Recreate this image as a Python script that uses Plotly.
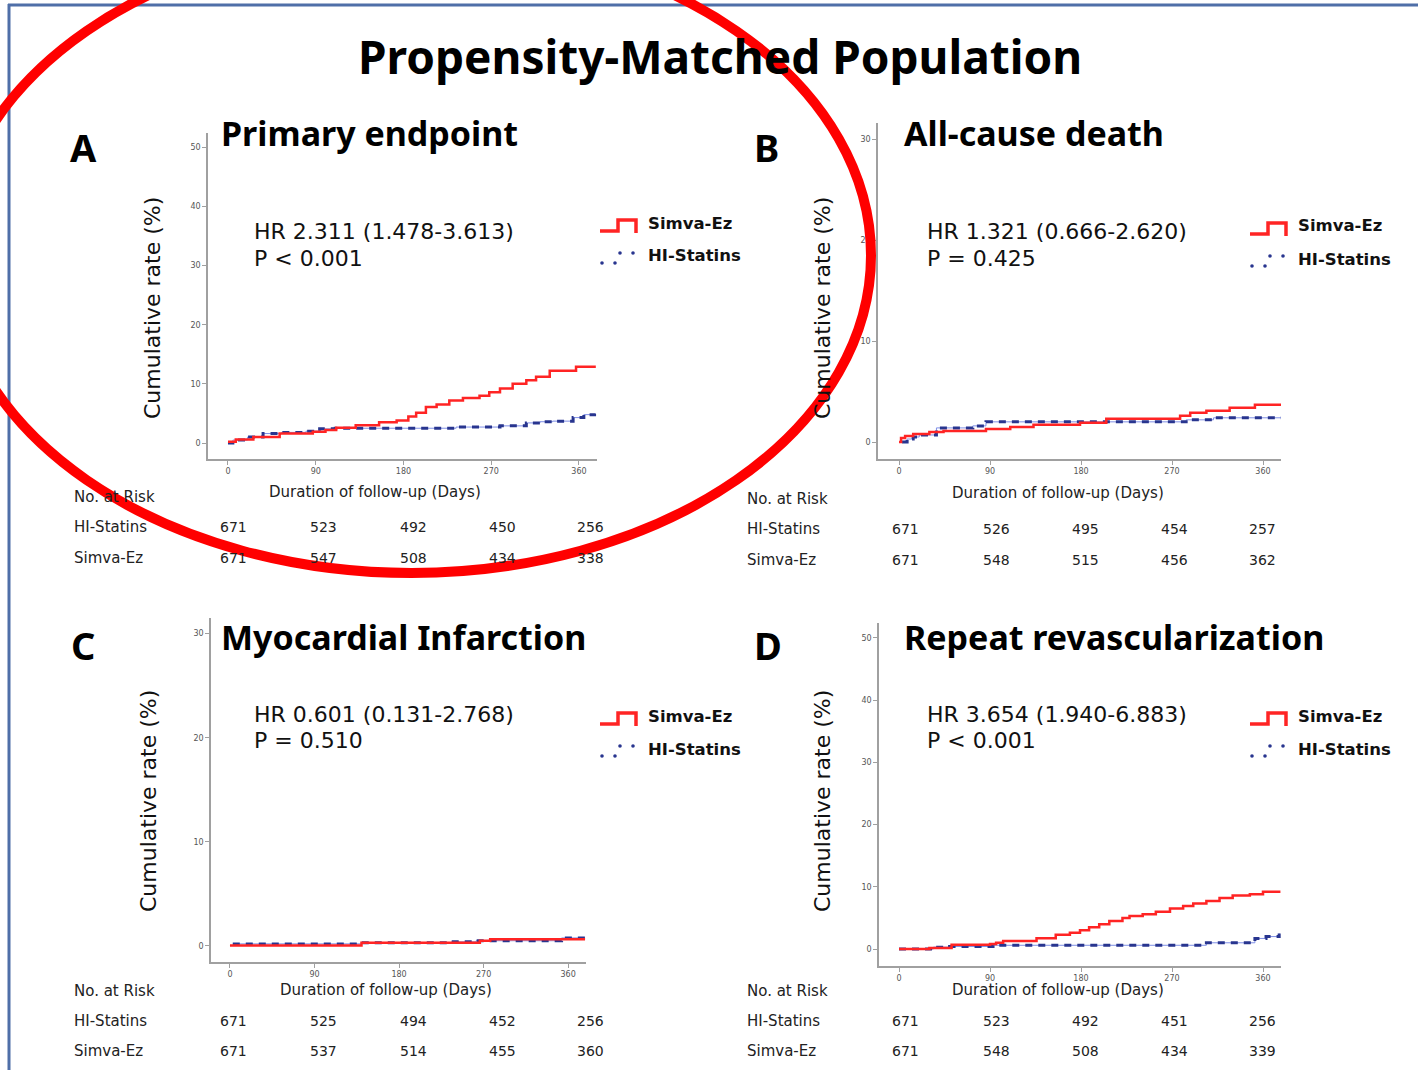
import plotly.graph_objects as go

W, H = 1418, 1070

# ---- Kaplan-Meier style cumulative incidence (%) by follow-up day ----
# A: primary endpoint
a_simva_days = [0, 8, 26, 53, 87, 100, 111, 131, 155, 173, 185, 193, 203, 214, 227, 241, 258, 268, 279, 292, 306, 316, 330, 357, 376]
a_simva_rate = [0.2, 0.6, 1.0, 1.6, 1.9, 2.2, 2.6, 3.0, 3.5, 3.8, 4.5, 5.1, 6.1, 6.5, 7.2, 7.6, 8.0, 8.6, 9.2, 10.0, 10.6, 11.2, 12.2, 12.9, 13.1]
a_hist_days = [0, 5, 20, 36, 55, 80, 94, 110, 234, 279, 306, 320, 333, 354, 365, 376]
a_hist_rate = [0.0, 0.5, 1.0, 1.6, 1.8, 2.0, 2.4, 2.5, 2.7, 2.9, 3.4, 3.6, 3.7, 4.3, 4.8, 5.0]

# B: all-cause death
b_simva_days = [0, 2, 6, 14, 30, 44, 86, 110, 133, 179, 205, 278, 288, 304, 327, 352, 378]
b_simva_rate = [0.0, 0.4, 0.6, 0.8, 1.0, 1.1, 1.3, 1.5, 1.7, 1.9, 2.3, 2.6, 2.9, 3.1, 3.4, 3.7, 3.7]
b_hist_days = [3, 8, 14, 20, 37, 73, 86, 284, 311, 378]
b_hist_rate = [0.0, 0.3, 0.5, 0.7, 1.4, 1.6, 2.0, 2.2, 2.4, 2.4]

# C: myocardial infarction
c_simva_days = [0, 140, 266, 277, 378]
c_simva_rate = [0.05, 0.3, 0.5, 0.65, 0.65]
c_hist_days = [3, 140, 236, 262, 353, 378]
c_hist_rate = [0.2, 0.3, 0.4, 0.5, 0.77, 0.77]

# D: repeat revascularization
d_simva_days = [0, 30, 52, 90, 96, 103, 136, 155, 169, 179, 188, 198, 208, 221, 228, 241, 254, 268, 281, 291, 304, 317, 330, 347, 360, 376]
d_simva_rate = [0.0, 0.15, 0.7, 0.8, 1.0, 1.3, 1.75, 2.3, 2.6, 3.0, 3.5, 4.0, 4.5, 5.0, 5.3, 5.6, 6.0, 6.5, 6.9, 7.3, 7.7, 8.2, 8.6, 8.8, 9.2, 9.4]
d_hist_days = [0, 34, 50, 93, 304, 352, 363, 376]
d_hist_rate = [0.0, 0.3, 0.4, 0.6, 1.0, 1.7, 2.0, 2.5]

# Text content
panel_letters = ["A", "B", "C", "D"]
panel_titles = ["Primary endpoint", "All-cause death", "Myocardial Infarction", "Repeat revascularization"]
hr_lines = ["HR 2.311 (1.478-3.613)", "HR 1.321 (0.666-2.620)", "HR 0.601 (0.131-2.768)", "HR 3.654 (1.940-6.883)"]
p_lines = ["P < 0.001", "P = 0.425", "P = 0.510", "P < 0.001"]
group_names = ["Simva-Ez", "HI-Statins"]
x_ticks = [0, 90, 180, 270, 360]
y_ticks_a = [0, 10, 20, 30, 40, 50]
y_ticks_b = [0, 10, 20, 30]
y_ticks_c = [0, 10, 20, 30]
y_ticks_d = [0, 10, 20, 30, 40, 50]

# Numbers at risk (HI-Statins row, Simva-Ez row)
risk_hist = [[671, 523, 492, 450, 256], [671, 526, 495, 454, 257],
             [671, 525, 494, 452, 256], [671, 523, 492, 451, 256]]
risk_simva = [[671, 547, 508, 434, 338], [671, 548, 515, 456, 362],
              [671, 537, 514, 455, 360], [671, 548, 508, 434, 339]]

TITLE_FONT = "Noto Sans"
BODY_FONT = "DejaVu Sans"
RED = "#ff2424"
NAVY = "#28358f"
LIGHT_BLUE = "#7f8fe6"


def px(x):
    return x / W


def py(y):
    return 1 - y / H


def note(text, x, y, size, weight="normal", xanchor="left", color="black", angle=0, family=BODY_FONT):
    return dict(text=text, x=px(x), y=py(y), xref="paper", yref="paper",
                xanchor=xanchor, yanchor="middle", showarrow=False, textangle=angle,
                font=dict(size=size, family=family, weight=weight, color=color))


# panel geometry in pixels: (x_left, x_right), (y_top, y_bottom), axis ranges
panels = [
    dict(dx=(208, 597), dy=(133, 459), xr=[-20.5, 378.5], yr=[-2.7, 52.4], yt=y_ticks_a,
         sd=a_simva_days, sr=a_simva_rate, hd=a_hist_days, hr=a_hist_rate),
    dict(dx=(878, 1281), dy=(123, 459), xr=[-20.8, 377.8], yr=[-1.68, 31.6], yt=y_ticks_b,
         sd=b_simva_days, sr=b_simva_rate, hd=b_hist_days, hr=b_hist_rate),
    dict(dx=(211, 586), dy=(618, 962), xr=[-20.2, 379], yr=[-1.54, 31.5], yt=y_ticks_c,
         sd=c_simva_days, sr=c_simva_rate, hd=c_hist_days, hr=c_hist_rate),
    dict(dx=(879, 1281), dy=(623, 966), xr=[-19.8, 377.8], yr=[-2.73, 52.4], yt=y_ticks_d,
         sd=d_simva_days, sr=d_simva_rate, hd=d_hist_days, hr=d_hist_rate),
]

# text positions per panel (pixels)
letter_pos = [(83, 147), (766, 147), (83, 645), (768, 645)]
title_pos = [(219, 133), (902, 133), (219, 637), (902, 637)]
hr_pos = [(252, 232), (925, 232), (252, 714), (925, 714)]
legend_pos = [(600, 223), (1250, 226), (600, 716), (1250, 716)]
ytitle_pos = [(152, 308), (822, 308), (148, 801), (822, 801)]
xtitle_pos = [(375, 492), (1058, 493), (386, 990), (1058, 990)]
table_rows_y = [[497, 527, 558], [499, 529, 560], [991, 1021, 1051], [991, 1021, 1051]]
table_label_x = [72, 745, 72, 745]
table_cols_x = [[233, 323, 413, 502, 590], [905, 996, 1085, 1174, 1262],
                [233, 323, 413, 502, 590], [905, 996, 1085, 1174, 1262]]

fig = go.Figure()
layout = dict(
    width=W, height=H,
    margin=dict(l=0, r=0, t=0, b=0),
    paper_bgcolor="white", plot_bgcolor="white",
    showlegend=False,
    font=dict(family=BODY_FONT, color="black"),
)
annotations = []
shapes = []

for i, p in enumerate(panels):
    n = "" if i == 0 else str(i + 1)
    xa, ya = "x" + n, "y" + n
    axis_common = dict(showgrid=False, zeroline=False, showline=True, linecolor="#a0a0a0",
                       linewidth=1.5, ticks="outside", ticklen=4, tickcolor="#a0a0a0",
                       tickfont=dict(size=8, color="#555555", family=BODY_FONT),
                       automargin=False, fixedrange=True)
    layout["xaxis" + n] = dict(axis_common, domain=[px(p["dx"][0]), px(p["dx"][1])],
                               range=p["xr"], tickvals=x_ticks, anchor=ya)
    layout["yaxis" + n] = dict(axis_common, domain=[py(p["dy"][1]), py(p["dy"][0])],
                               range=p["yr"], tickvals=p["yt"], anchor=xa)

    # HI-Statins: thin light line under a dark dashed line
    fig.add_trace(go.Scatter(x=p["hd"], y=p["hr"], mode="lines", line_shape="hv",
                             line=dict(color=LIGHT_BLUE, width=1), xaxis=xa, yaxis=ya,
                             hoverinfo="skip"))
    fig.add_trace(go.Scatter(x=p["hd"], y=p["hr"], mode="lines", line_shape="hv",
                             line=dict(color=NAVY, width=3, dash="7px,6px"), xaxis=xa, yaxis=ya,
                             name=group_names[1]))
    # Simva-Ez: solid red step line
    fig.add_trace(go.Scatter(x=p["sd"], y=p["sr"], mode="lines", line_shape="hv",
                             line=dict(color=RED, width=2.5), xaxis=xa, yaxis=ya,
                             name=group_names[0]))

    annotations.append(note(panel_letters[i], *letter_pos[i], 38, "bold", "center", family=TITLE_FONT))
    annotations.append(note(panel_titles[i], *title_pos[i], 34, "bold", family=TITLE_FONT))
    hx, hy = hr_pos[i]
    annotations.append(note(hr_lines[i], hx, hy, 22, color="#111"))
    annotations.append(note(p_lines[i], hx, hy + 26, 22, color="#111"))

    # legend block
    lx, ly = legend_pos[i]
    annotations.append(note(group_names[0], lx + 46, ly, 16.5, "bold", color="#111"))
    annotations.append(note(group_names[1], lx + 46, ly + 33, 16.5, "bold", color="#111"))
    step = [(lx, ly + 8), (lx + 18, ly + 8), (lx + 18, ly - 3), (lx + 36, ly - 3), (lx + 36, ly + 10)]
    path = "M " + " L ".join(f"{px(a):.5f},{py(b):.5f}" for a, b in step)
    shapes.append(dict(type="path", path=path, xref="paper", yref="paper",
                       line=dict(color=RED, width=3.5)))
    for (dx_, dy_) in [(2, 40), (15, 40), (20, 30), (33, 30)]:
        cx, cy = lx + dx_, ly + dy_
        shapes.append(dict(type="circle", xref="paper", yref="paper",
                           x0=px(cx - 1.8), x1=px(cx + 1.8), y0=py(cy + 1.8), y1=py(cy - 1.8),
                           fillcolor=NAVY, line=dict(width=0)))

    # axis titles
    annotations.append(note("Cumulative rate (%)", *ytitle_pos[i], 22, "normal", "center",
                            color="#111", angle=-90))
    annotations.append(note("Duration of follow-up (Days)", *xtitle_pos[i], 15, "normal", "center",
                            color="#222"))

    # numbers-at-risk table
    rows_y = table_rows_y[i]
    for txt, yy in zip(["No. at Risk", group_names[1], group_names[0]], rows_y):
        annotations.append(note(txt, table_label_x[i], yy, 15, color="#222"))
    for row, yy in [(risk_hist[i], rows_y[1]), (risk_simva[i], rows_y[2])]:
        for v, xx in zip(row, table_cols_x[i]):
            annotations.append(note(str(v), xx, yy, 14, "normal", "center", color="#222"))

# main heading
annotations.append(note("Propensity-Matched Population", 720, 56, 46, "bold", "center",
                        family=TITLE_FONT))

# slide frame
shapes.append(dict(type="line", xref="paper", yref="paper", x0=px(8), x1=px(1418),
                   y0=py(5), y1=py(5), line=dict(color="#4f6fa8", width=3)))
shapes.append(dict(type="line", xref="paper", yref="paper", x0=px(9), x1=px(9),
                   y0=py(4), y1=py(1070), line=dict(color="#4f6fa8", width=3)))

# red highlight ellipse around panel A
shapes.append(dict(type="circle", xref="paper", yref="paper",
                   x0=px(-48), x1=px(871), y0=py(573), y1=py(-62),
                   line=dict(color="#ff0000", width=10), layer="above"))

layout["annotations"] = annotations
layout["shapes"] = shapes
fig.update_layout(**layout)
fig.write_html("out.html")
